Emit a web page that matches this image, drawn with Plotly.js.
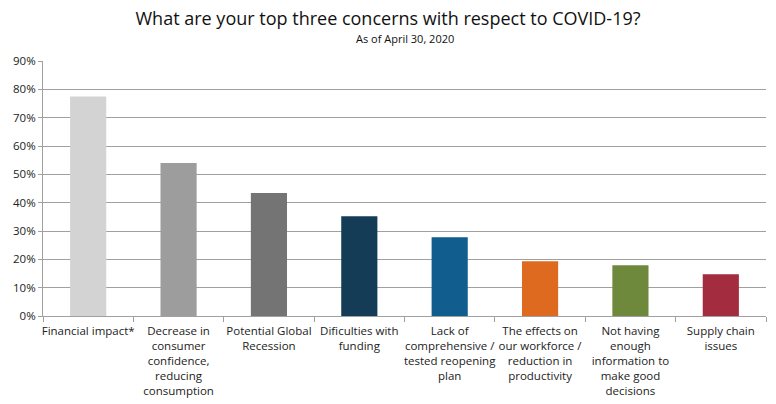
<!DOCTYPE html>
<html>
<head>
<meta charset="utf-8">
<script src="https://cdn.plot.ly/plotly-3.0.1.min.js"></script>
<style>
  body { margin: 0; background: #fff; }
  #chart { width: 776px; height: 404px; }
</style>
</head>
<body>
<div id="chart"></div>
<script>
// survey answers, share of respondents
var concerns = [
    'Financial impact*',
    'Decrease in<br>consumer<br>confidence,<br>reducing<br>consumption',
    'Potential Global<br>Recession',
    'Dificulties with<br>funding',
    'Lack of<br>comprehensive /<br>tested reopening<br>plan',
    'The effects on<br>our workforce /<br>reduction in<br>productivity',
    'Not having<br>enough<br>information to<br>make good<br>decisions',
    'Supply chain<br>issues'
];
var shares = [0.775, 0.54, 0.434, 0.352, 0.278, 0.193, 0.179, 0.147];
var barColors = ['#d3d3d3', '#9d9d9d', '#747474', '#143c56', '#105d8e', '#de6a1f', '#6e893c', '#a32d3e'];

var trace = {
    type: 'bar',
    x: concerns,
    y: shares,
    marker: {color: barColors},
    hoverinfo: 'x+y'
};

var layout = {
    width: 776,
    height: 404,
    margin: {l: 43, r: 10, t: 61, b: 88},
    paper_bgcolor: '#fff',
    plot_bgcolor: '#fff',
    font: {family: '"Open Sans", sans-serif', size: 11, color: '#222'},
    bargap: 0.6,
    showlegend: false,
    title: {
        text: 'What are your top three concerns with respect to COVID-19?',
        font: {size: 18, color: '#111'},
        x: 0.5,
        xanchor: 'center',
        y: 0.953,
        yanchor: 'middle'
    },
    annotations: [{
        text: 'As of April 30, 2020',
        xref: 'paper', yref: 'paper',
        x: 0.5, y: 1.087,
        xanchor: 'center', yanchor: 'middle',
        showarrow: false,
        font: {size: 11, color: '#111'}
    }],
    xaxis: {
        showline: true,
        linecolor: '#a0a0a0',
        linewidth: 1,
        ticks: 'outside',
        tickson: 'boundaries',
        ticklen: 5,
        tickcolor: '#a0a0a0',
        ticklabelstandoff: 4,
        tickfont: {size: 11.5},
        showgrid: false,
        tickangle: 0,
        automargin: false
    },
    yaxis: {
        range: [0, 0.9],
        dtick: 0.1,
        tickformat: '.0%',
        showline: true,
        linecolor: '#a0a0a0',
        ticks: 'outside',
        ticklen: 4,
        tickcolor: '#a0a0a0',
        tickfont: {size: 11.5},
        gridcolor: '#a0a0a0',
        zeroline: false,
        automargin: false
    }
};

Plotly.newPlot('chart', [trace], layout, {displayModeBar: false});
</script>
</body>
</html>
